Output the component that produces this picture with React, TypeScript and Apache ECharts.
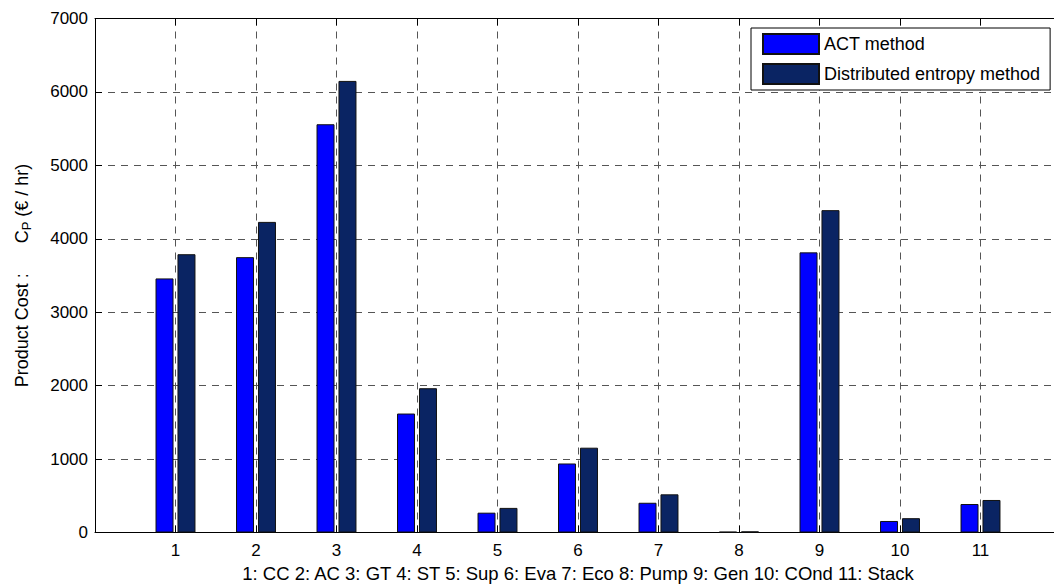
import { useEffect, useRef } from "react";
import * as echarts from "echarts";

// Component numbers on the x axis
const categories = ["1", "2", "3", "4", "5", "6", "7", "8", "9", "10", "11"];
// Product cost per component (€ / hr)
const actMethod = [3460, 3750, 5560, 1620, 270, 940, 405, 10, 3815, 157, 388];
const distributedEntropyMethod = [3790, 4230, 6150, 1965, 335, 1155, 520, 15, 4390, 195, 443];
const seriesNames = ["ACT method", "Distributed entropy method"];
const xTitle =
  "1: CC 2: AC 3: GT 4: ST 5: Sup 6: Eva 7: Eco 8: Pump 9: Gen 10: COnd 11: Stack";
const yMin = 0;
const yMax = 7000;
const yStep = 1000;

const FONT = "'Liberation Sans', Arial, Helvetica, sans-serif";

// the x range runs one empty slot past the first and last component
const slots = ["", ...categories, ""];
const padded = (v: number[]) => [null, ...v, null];

export default function App() {
  const ref = useRef<HTMLDivElement>(null);

  useEffect(() => {
    if (!ref.current) return;
    const chart = echarts.init(ref.current, undefined, { renderer: "svg" });

    const gridDash = { type: [7, 6] as number[], color: "#555", width: 1 };
    const xBase = {
      type: "category" as const,
      data: slots,
      boundaryGap: false,
      axisLine: { show: true, lineStyle: { color: "#000", width: 1 } },
      axisTick: { show: true, inside: true, length: 7, interval: 0, lineStyle: { color: "#000" } },
    };

    chart.setOption({
      animation: false,
      backgroundColor: "#fff",
      textStyle: { fontFamily: FONT },
      grid: { left: 95, right: 9, top: 18.5, bottom: 55.5, containLabel: false },
      legend: {
        orient: "vertical",
        left: 751,
        top: 28,
        icon: "rect",
        itemWidth: 56,
        itemHeight: 20,
        itemGap: 8,
        padding: [5, 10, 5, 11],
        borderColor: "#000",
        borderWidth: 1,
        backgroundColor: "#fff",
        textStyle: { fontSize: 18, color: "#000", fontFamily: FONT },
        data: seriesNames,
      },
      xAxis: [
        {
          ...xBase,
          position: "bottom",
          name: xTitle,
          nameLocation: "middle",
          nameGap: 31,
          nameTextStyle: { fontSize: 18.5, color: "#000", fontFamily: FONT },
          axisLabel: { interval: 0, fontSize: 17, color: "#000", margin: 9, fontFamily: FONT },
          splitLine: { show: true, interval: 0, lineStyle: gridDash },
        },
        {
          ...xBase,
          position: "top",
          axisLabel: { show: false },
          splitLine: { show: false },
        },
      ],
      yAxis: {
        type: "value",
        min: yMin,
        max: yMax,
        interval: yStep,
        axisLine: { show: true, lineStyle: { color: "#000", width: 1 } },
        axisTick: { show: true, inside: true, length: 7, lineStyle: { color: "#000" } },
        axisLabel: {
          fontSize: 17,
          color: "#000",
          margin: 7,
          fontFamily: FONT,
          formatter: (v: number) => String(v),
        },
        splitLine: { show: true, lineStyle: gridDash },
        name: "{a|Product Cost :}{c|C}{s|P}{b|(€ / hr)}",
        nameLocation: "middle",
        nameRotate: 90,
        nameGap: 62,
        nameTextStyle: {
          rich: {
            a: { fontSize: 18, lineHeight: 22, color: "#000", fontFamily: FONT },
            c: { fontSize: 18, lineHeight: 22, color: "#000", fontFamily: FONT, padding: [0, 0, 0, 30] },
            s: { fontSize: 13, lineHeight: 13, color: "#000", fontFamily: FONT, padding: [9, 0, 0, 0] },
            b: { fontSize: 18, lineHeight: 22, color: "#000", fontFamily: FONT, padding: [0, 0, 0, 5] },
          },
        },
      },
      series: [
        {
          name: seriesNames[0],
          type: "bar",
          xAxisIndex: 0,
          data: padded(actMethod),
          barWidth: 18,
          barGap: "22%",
          itemStyle: { color: "#0000FF", borderColor: "#111", borderWidth: 1 },
        },
        {
          name: seriesNames[1],
          type: "bar",
          xAxisIndex: 0,
          data: padded(distributedEntropyMethod),
          barWidth: 18,
          barGap: "22%",
          itemStyle: { color: "#0A2463", borderColor: "#111", borderWidth: 1 },
        },
      ],
    });

    return () => chart.dispose();
  }, []);

  return (
    <div
      style={{
        position: "fixed",
        left: 0,
        top: 0,
        width: 1054,
        height: 588,
        overflow: "hidden",
        background: "#fff",
      }}
    >
      <div ref={ref} style={{ width: 1070, height: 588 }} />
    </div>
  );
}
